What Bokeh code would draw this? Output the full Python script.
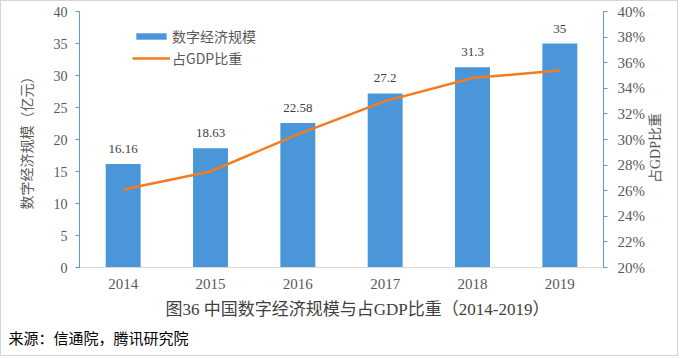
import math
from bokeh.plotting import figure
from bokeh.models import (ColumnDataSource, LinearAxis, Range1d, FactorRange, Legend, LegendItem,
                          LabelSet, Title, FixedTicker, PrintfTickFormatter)
from bokeh.embed import file_html
from bokeh.resources import INLINE

years = ["2014", "2015", "2016", "2017", "2018", "2019"]
scale = [16.16, 18.63, 22.58, 27.2, 31.3, 35]
scale_labels = ["16.16", "18.63", "22.58", "27.2", "31.3", "35"]
share = [26.1, 27.5, 30.4, 33.0, 34.8, 35.4]  # percent of GDP
left_ticks = [0, 5, 10, 15, 20, 25, 30, 35, 40]
right_ticks = [20, 22, 24, 26, 28, 30, 32, 34, 36, 38, 40]
right_title = "占GDP比重"

SERIF = "'Liberation Serif', 'Noto Sans CJK SC'"
CJK = "'Noto Sans CJK SC'"
BLUE = "#4a96d9"
AXBLUE = "#5b9bd5"
ORANGE = "#f47b1e"
GRAY = "#595959"

src = ColumnDataSource(dict(x=years, y=scale, lab=scale_labels))

p = figure(x_range=FactorRange(*years, range_padding=0), y_range=Range1d(0, 40),
           width=678, height=356, output_backend="svg", toolbar_location=None,
           min_border_left=79, min_border_right=75, min_border_top=11, min_border_bottom=89)
p.border_fill_alpha = 0
p.styles = {"background": "white", "box-shadow": "inset 0 0 0 1px #d4d4d4"}
p.outline_line_color = None
p.grid.grid_line_color = None
p.background_fill_color = "white"

bars = p.vbar(x="x", top="y", width=0.4, source=src, fill_color=BLUE, line_color=None)
p.extra_y_ranges = {"pct": Range1d(20, 40)}
line = p.line(x=years, y=share, y_range_name="pct", line_color=ORANGE, line_width=2.5)

p.add_layout(LabelSet(x="x", y="y", text="lab", source=src, text_align="center",
                      text_baseline="bottom", y_offset=11, text_font_size="13px",
                      text_font=SERIF, text_color="#404040"))

# left axis
ya = p.yaxis[0]
ya.ticker = FixedTicker(ticks=left_ticks)
ya.axis_line_color = AXBLUE
ya.major_tick_line_color = AXBLUE
ya.major_tick_out = 4
ya.major_tick_in = 0
ya.minor_tick_line_color = None
ya.major_label_text_font = SERIF
ya.major_label_text_font_size = "14px"
ya.major_label_text_color = GRAY
ya.major_label_standoff = 8
ya.axis_label = "数字经济规模（亿元）"
ya.axis_label_text_font = CJK
ya.axis_label_text_font_size = "14px"
ya.axis_label_text_font_style = "normal"
ya.axis_label_text_color = GRAY
ya.axis_label_standoff = 15

# right axis
ra = LinearAxis(y_range_name="pct", ticker=FixedTicker(ticks=right_ticks),
                formatter=PrintfTickFormatter(format="%d%%"))
ra.axis_line_color = AXBLUE
ra.major_tick_line_color = AXBLUE
ra.major_tick_out = 4
ra.major_tick_in = 0
ra.minor_tick_line_color = None
ra.major_label_text_font = SERIF
ra.major_label_text_font_size = "15px"
ra.major_label_text_color = GRAY
ra.major_label_standoff = 10
p.add_layout(ra, "right")

# right axis title (reads bottom-to-top), drawn as a single rotated tick label
TITLE_POS = 26.6
rt = LinearAxis(y_range_name="pct", ticker=FixedTicker(ticks=[TITLE_POS]),
                major_label_overrides={TITLE_POS: right_title})
rt.axis_line_color = None
rt.major_tick_line_color = None
rt.minor_tick_line_color = None
rt.major_label_orientation = math.pi / 2
rt.major_label_text_font = SERIF
rt.major_label_text_font_size = "14px"
rt.major_label_text_color = GRAY
rt.major_label_standoff = 2
p.add_layout(rt, "right")

# bottom axis
xa = p.xaxis[0]
xa.axis_line_color = "#d9d9d9"
xa.major_tick_line_color = None
xa.minor_tick_line_color = None
xa.major_label_text_font = SERIF
xa.major_label_text_font_size = "15px"
xa.major_label_text_color = GRAY
xa.major_label_standoff = 5

legend = Legend(items=[LegendItem(label="数字经济规模", renderers=[bars]),
                       LegendItem(label="占GDP比重", renderers=[line])],
                location=(53, 199), glyph_width=38, glyph_height=8,
                label_text_font=CJK, label_text_font_size="14px", label_text_color=GRAY,
                label_standoff=2, spacing=2, padding=0, margin=0,
                border_line_color=None, background_fill_alpha=0)
p.add_layout(legend)

p.add_layout(Title(text="图36  中国数字经济规模与占GDP比重（2014-2019）", align="left", offset=86,
                   text_font=SERIF, text_font_size="17px", text_font_style="normal",
                   text_color="#404040", standoff=12), "below")
p.add_layout(Title(text="来源：信通院，腾讯研究院", align="left", offset=-71,
                   text_font=CJK, text_font_size="15px", text_font_style="normal",
                   text_color="#000000", standoff=0), "below")

open("out.html", "w").write(file_html(p, INLINE))
